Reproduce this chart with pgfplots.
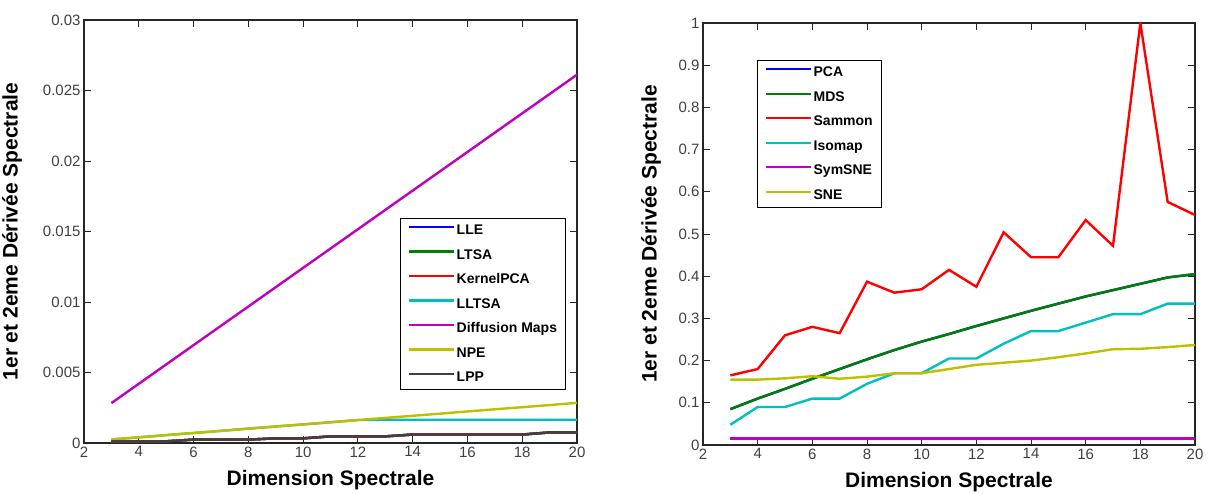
\documentclass[border=0pt]{standalone}
\usepackage{fontspec}
\setmainfont{Liberation Sans}
\usepackage{pgfplots}
\pgfplotsset{compat=1.18}
\definecolor{mb}{rgb}{0,0,1}
\definecolor{mg}{rgb}{0,0.5,0}
\definecolor{mr}{rgb}{1,0,0}
\definecolor{mc}{rgb}{0,0.75,0.75}
\definecolor{mm}{rgb}{0.75,0,0.75}
\definecolor{my}{rgb}{0.75,0.75,0}
\definecolor{mk}{rgb}{0.25,0.25,0.25}
\pgfplotsset{
 mystyle/.style={
  scale only axis, anchor=south west,
  xmin=2, xmax=20, xtick={2,4,6,8,10,12,14,16,18,20},
  tick align=inside, major tick length=7pt,
  axis line style={line width=1.3pt, black!85},
  every tick/.style={black!85, line width=1pt},
  tick label style={font=\fontsize{15}{17}\selectfont, text=black!75},
  /pgf/number format/assume math mode=true,
  scaled y ticks=false,
  label style={font=\fontsize{21}{24}\selectfont\bfseries},
  xlabel={Dimension Spectrale},
  ylabel={1er et 2eme Dérivée Spectrale},
  legend cell align=left,
  legend style={font=\fontsize{14}{16}\selectfont\bfseries, draw=black, line width=1.2pt,
    inner xsep=7pt, inner ysep=4pt, row sep=8.5pt,
    nodes={inner sep=1.5pt, text height=10.5pt, text depth=2.5pt}},
  legend image code/.code={\draw[#1, line width=2.4pt] (0pt,3.5pt) -- (45pt,3.5pt);},
  every axis plot/.append style={line width=2.4pt},
 }
}
\begin{document}
\begin{tikzpicture}
\useasboundingbox (0,0) rectangle (1210pt,493pt);
\begin{axis}[mystyle, at={(84pt,50pt)}, width=493pt, height=423pt,
  ymin=0, ymax=0.03,
  ytick={0,0.005,0.01,0.015,0.02,0.025,0.03},
  yticklabels={0,0.005,0.01,0.015,0.02,0.025,0.03},
  xlabel style={at={(axis description cs:0.5,-0.0875)}, anchor=center},
  ylabel style={at={(axis description cs:-0.146,0.5)}, anchor=center},
  legend style={at={(0.978,0.532)}, anchor=north east}]
\addplot[mb] coordinates {(3,0.00012)(4,0.00012)(5,0.00012)(6,0.00024)(7,0.00024)(8,0.00024)(9,0.00033)(10,0.00033)(11,0.00047)(12,0.00047)(13,0.00047)(14,0.0006)(15,0.0006)(16,0.0006)(17,0.0006)(18,0.0006)(19,0.00075)(20,0.00075)};
\addlegendentry{LLE}
\addplot[mg] coordinates {(3,0.00012)(4,0.00012)(5,0.00012)(6,0.00024)(7,0.00024)(8,0.00024)(9,0.00033)(10,0.00033)(11,0.00047)(12,0.00047)(13,0.00047)(14,0.0006)(15,0.0006)(16,0.0006)(17,0.0006)(18,0.0006)(19,0.00075)(20,0.00075)};
\addlegendentry{LTSA}
\addplot[mr] coordinates {(3,0.00012)(4,0.00012)(5,0.00012)(6,0.00024)(7,0.00024)(8,0.00024)(9,0.00033)(10,0.00033)(11,0.00047)(12,0.00047)(13,0.00047)(14,0.0006)(15,0.0006)(16,0.0006)(17,0.0006)(18,0.0006)(19,0.00075)(20,0.00075)};
\addlegendentry{KernelPCA}
\addplot[mc] coordinates {(3,0.00025)(4,0.0004)(5,0.00056)(6,0.00071)(7,0.00086)(8,0.00102)(9,0.00117)(10,0.00132)(11,0.00147)(12,0.00163)(13,0.00165)(14,0.00165)(15,0.00165)(16,0.00165)(17,0.00165)(18,0.00165)(19,0.00165)(20,0.00165)};
\addlegendentry{LLTSA}
\addplot[mm] coordinates {(3,0.00283)(4,0.00420)(5,0.00557)(6,0.00694)(7,0.00831)(8,0.00968)(9,0.01105)(10,0.01242)(11,0.01379)(12,0.01516)(13,0.01653)(14,0.01790)(15,0.01927)(16,0.02064)(17,0.02201)(18,0.02338)(19,0.02475)(20,0.02612)};
\addlegendentry{Diffusion Maps}
\addplot[my] coordinates {(3,0.00025)(4,0.0004)(5,0.00056)(6,0.00071)(7,0.00086)(8,0.00102)(9,0.00117)(10,0.00132)(11,0.00147)(12,0.00163)(13,0.00178)(14,0.00193)(15,0.00208)(16,0.00224)(17,0.00239)(18,0.00254)(19,0.00269)(20,0.00285)};
\addlegendentry{NPE}
\addplot[mk] coordinates {(3,0.00012)(4,0.00012)(5,0.00012)(6,0.00024)(7,0.00024)(8,0.00024)(9,0.00033)(10,0.00033)(11,0.00047)(12,0.00047)(13,0.00047)(14,0.0006)(15,0.0006)(16,0.0006)(17,0.0006)(18,0.0006)(19,0.00075)(20,0.00075)};
\addlegendentry{LPP}
\end{axis}
\begin{axis}[mystyle, at={(703pt,48pt)}, width=492pt, height=422pt,
  ymin=0, ymax=1,
  ytick={0,0.1,0.2,0.3,0.4,0.5,0.6,0.7,0.8,0.9,1},
  yticklabels={0,0.1,0.2,0.3,0.4,0.5,0.6,0.7,0.8,0.9,1},
  xlabel style={at={(axis description cs:0.5,-0.0877)}, anchor=center},
  ylabel style={at={(axis description cs:-0.1057,0.5)}, anchor=center},
  legend style={at={(0.11,0.912)}, anchor=north west}]
\addplot[mb] coordinates {(3,0.085)(4,0.11)(5,0.133)(6,0.157)(7,0.18)(8,0.203)(9,0.225)(10,0.245)(11,0.263)(12,0.282)(13,0.300)(14,0.318)(15,0.335)(16,0.352)(17,0.367)(18,0.382)(19,0.397)(20,0.405)};
\addlegendentry{PCA}
\addplot[mg] coordinates {(3,0.085)(4,0.11)(5,0.133)(6,0.157)(7,0.18)(8,0.203)(9,0.225)(10,0.245)(11,0.263)(12,0.282)(13,0.300)(14,0.318)(15,0.335)(16,0.352)(17,0.367)(18,0.382)(19,0.397)(20,0.405)};
\addlegendentry{MDS}
\addplot[mr] coordinates {(3,0.165)(4,0.18)(5,0.26)(6,0.28)(7,0.265)(8,0.387)(9,0.361)(10,0.369)(11,0.415)(12,0.375)(13,0.504)(14,0.445)(15,0.445)(16,0.533)(17,0.472)(18,1.0)(19,0.576)(20,0.545)};
\addlegendentry{Sammon}
\addplot[mc] coordinates {(3,0.048)(4,0.09)(5,0.09)(6,0.11)(7,0.11)(8,0.145)(9,0.17)(10,0.17)(11,0.205)(12,0.205)(13,0.24)(14,0.27)(15,0.27)(16,0.29)(17,0.31)(18,0.31)(19,0.335)(20,0.335)};
\addlegendentry{Isomap}
\addplot[mm] coordinates {(3,0.015)(4,0.015)(5,0.015)(6,0.015)(7,0.015)(8,0.015)(9,0.015)(10,0.015)(11,0.015)(12,0.015)(13,0.015)(14,0.015)(15,0.015)(16,0.015)(17,0.015)(18,0.015)(19,0.015)(20,0.015)};
\addlegendentry{SymSNE}
\addplot[my] coordinates {(3,0.155)(4,0.155)(5,0.158)(6,0.163)(7,0.157)(8,0.162)(9,0.17)(10,0.17)(11,0.18)(12,0.19)(13,0.195)(14,0.2)(15,0.208)(16,0.217)(17,0.227)(18,0.228)(19,0.232)(20,0.237)};
\addlegendentry{SNE}
\end{axis}
\end{tikzpicture}
\end{document}
